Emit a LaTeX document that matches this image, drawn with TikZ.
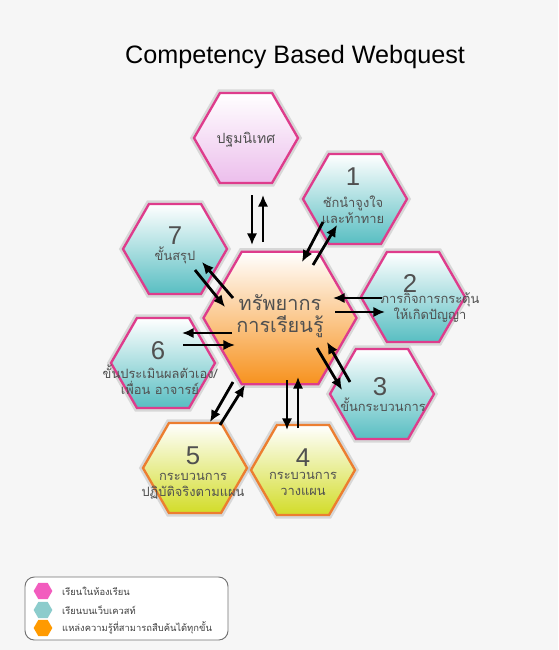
\documentclass[tikz,border=0pt]{standalone}
\usepackage{fontspec}
\setmainfont{Liberation Sans}
\newfontfamily\thaifont[Script=Thai]{Loma}
\usetikzlibrary{shapes.geometric,arrows.meta}

\definecolor{bgcol}{RGB}{246,246,246}
\definecolor{pinkline}{RGB}{222,60,140}
\definecolor{pinkfill}{RGB}{236,190,236}
\definecolor{tealfill}{RGB}{88,190,194}
\definecolor{yellowfill}{RGB}{210,220,40}
\definecolor{orangeline}{RGB}{236,126,48}
\definecolor{orangefill}{RGB}{247,146,30}
\definecolor{txtgray}{RGB}{80,80,80}

\tikzset{
  hexa/.style={regular polygon,regular polygon sides=6,minimum size=3.12cm,inner sep=0pt,
    line width=2pt,preaction={draw=black!30,line width=6pt,opacity=.45}},
  pinkhex/.style={hexa,draw=pinkline,top color=white,bottom color=pinkfill},
  tealhex/.style={hexa,draw=pinkline,top color=white,bottom color=tealfill},
  yellowhex/.style={hexa,draw=orangeline,top color=white,bottom color=yellowfill},
  mainhex/.style={hexa,minimum size=4.59cm,draw=pinkline,top color=white,bottom color=orangefill},
  num/.style={font=\fontsize{22}{22}\selectfont,text=txtgray,inner sep=0pt},
  lbl/.style={font=\thaifont\fontsize{11}{13.6}\selectfont,text=txtgray,align=center,inner sep=0pt},
  flow/.style={line width=2.4pt,-{Latex[length=10pt,width=9pt]}},
  keyhex/.style={regular polygon,regular polygon sides=6,minimum size=0.56cm,inner sep=0pt},
  keytxt/.style={font=\thaifont\fontsize{8}{9}\selectfont,text=black!75,anchor=west,inner sep=0pt}
}

\begin{document}
\begin{tikzpicture}[x=0.03cm,y=-0.03cm]
  \useasboundingbox (0,0) rectangle (558,650);
  \fill[bgcol] (0,0) rectangle (558,650);

  \node (title) at (295,57) {\fontsize{21.5}{24}\selectfont Competency Based Webquest};

  \node[pinkhex] (top) at (246,138) {};
  \node[tealhex] (h1) at (355,199) {};
  \node[tealhex] (h2) at (413,297) {};
  \node[tealhex] (h3) at (382,394) {};
  \node[yellowhex] (h4) at (303,470) {};
  \node[yellowhex] (h5) at (195,468) {};
  \node[tealhex] (h6) at (163,363) {};
  \node[tealhex] (h7) at (175,249) {};
  \node[mainhex] (c) at (280,318) {};

  \node[lbl,font=\thaifont\fontsize{12}{14}\selectfont] (t0) at (246,140) {ปฐมนิเทศ};
  \node[num] (n1) at (353,177) {1};
  \node[lbl] (t1) at (353,210) {ชักนำจูงใจ\\และท้าทาย};
  \node[num] (n2) at (410,283) {2};
  \node[lbl] (t2) at (430,308) {ภารกิจการกระตุ้น\\ให้เกิดปัญญา};
  \node[num] (n3) at (380,387) {3};
  \node[lbl] (t3) at (383,405) {ขั้นกระบวนการ};
  \node[num] (n4) at (303,458) {4};
  \node[lbl] (t4) at (303,484) {กระบวนการ\\วางแผน};
  \node[num] (n5) at (193,456) {5};
  \node[lbl] (t5) at (193,486) {กระบวนการ\\ปฏิบัติจริงตามแผน};
  \node[num] (n6) at (158,351) {6};
  \node[lbl] (t6) at (160,380) {ขั้นประเมินผลตัวเอง/\\เพื่อน อาจารย์};
  \node[num] (n7) at (175,236) {7};
  \node[lbl] (t7) at (175,255) {ขั้นสรุป};
  \node[lbl,font=\thaifont\fontsize{17}{19}\selectfont] (tc) at (280,316) {ทรัพยากร\\การเรียนรู้};

  \draw[flow] ([shift={(6,57)}]top.center) -- ([shift={(-28,-73)}]c.center);
  \draw[flow] ([shift={(-17,-76)}]c.center) -- ([shift={(17,57)}]top.center);
  \draw[flow] ([shift={(-32,23)}]h1.center) -- ([shift={(22,-56)}]c.center);
  \draw[flow] ([shift={(33,-53)}]c.center) -- ([shift={(-18,26)}]h1.center);
  \draw[flow] ([shift={(-31,1)}]h2.center) -- ([shift={(53,-20)}]c.center);
  \draw[flow] ([shift={(55,-6)}]c.center) -- ([shift={(-28,15)}]h2.center);
  \draw[flow] ([shift={(37,30)}]c.center) -- ([shift={(-40,-4)}]h3.center);
  \draw[flow] ([shift={(-32,-12)}]h3.center) -- ([shift={(47,24)}]c.center);
  \draw[flow] ([shift={(7,62)}]c.center) -- ([shift={(-16,-40)}]h4.center);
  \draw[flow] ([shift={(-5,-42)}]h4.center) -- ([shift={(18,59)}]c.center);
  \draw[flow] ([shift={(-47,64)}]c.center) -- ([shift={(15,-46)}]h5.center);
  \draw[flow] ([shift={(25,-43)}]h5.center) -- ([shift={(-35,67)}]c.center);
  \draw[flow] ([shift={(-48,15)}]c.center) -- ([shift={(19,-30)}]h6.center);
  \draw[flow] ([shift={(20,-18)}]h6.center) -- ([shift={(-45,27)}]c.center);
  \draw[flow] ([shift={(20,21)}]h7.center) -- ([shift={(-55,-11)}]c.center);
  \draw[flow] ([shift={(-47,-20)}]c.center) -- ([shift={(27,13)}]h7.center);

  \draw[black!55,fill=white,rounded corners=8pt,line width=0.8pt] (25,577) rectangle (228,640);
  \node[keyhex,fill={rgb,255:red,242;green,92;blue,190}] (k1) at (43,591) {};
  \node[keyhex,fill={rgb,255:red,140;green,204;blue,204}] (k2) at (43,610) {};
  \node[keyhex,fill={rgb,255:red,255;green,154;blue,0}] (k3) at (43,628) {};
  \node[keytxt] (l1) at (62,591) {เรียนในห้องเรียน};
  \node[keytxt] (l2) at (62,610) {เรียนบนเว็บเควสท์};
  \node[keytxt] (l3) at (62,628) {แหล่งความรู้ที่สามารถสืบค้นได้ทุกขั้น};
\end{tikzpicture}
\end{document}
